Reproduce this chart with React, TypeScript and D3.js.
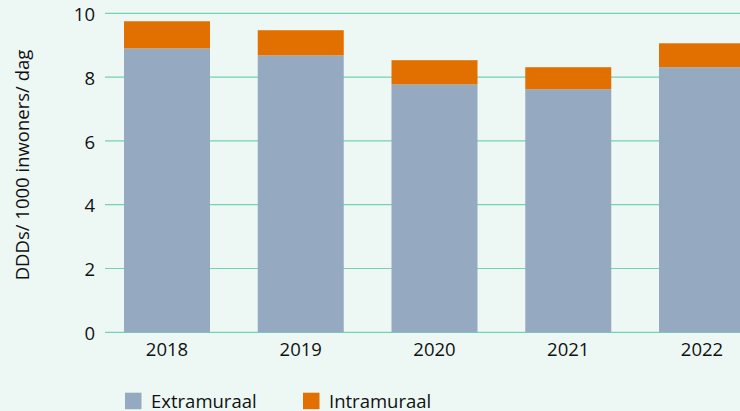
import React from "react";
import * as d3 from "d3";

const years = ["2018", "2019", "2020", "2021", "2022"];
const extramuraal = [8.9, 8.68, 7.77, 7.62, 8.31];
const intramuraal = [0.85, 0.79, 0.76, 0.69, 0.75];
const yTicks = [0, 2, 4, 6, 8, 10];
const seriesNames = ["Extramuraal", "Intramuraal"];
const seriesColors = ["#95a9c1", "#e17000"];

const W = 740;
const H = 411;
const FONT = "'Open Sans', sans-serif";
const FS = 18.5;

export default function App() {
  const x = d3
    .scaleBand<string>()
    .domain(years)
    .range([105, 764])
    .paddingInner(0.357)
    .paddingOuter(0.142);
  const y = d3.scaleLinear().domain([0, 10]).range([332.3, 13.3]);

  const rows = years.map((yr, i) => ({ year: yr, Extramuraal: extramuraal[i], Intramuraal: intramuraal[i] }));
  const stacked = d3.stack<any>().keys(seriesNames)(rows);

  return (
    <svg
      width={W}
      height={H}
      style={{ position: "fixed", left: 0, top: 0, display: "block" }}
      fontFamily={FONT}
    >
      <rect x={0} y={0} width={W} height={H} fill="#edf8f5" />
      {yTicks.map((t) => (
        <g key={t}>
          <line x1={105} x2={W} y1={y(t)} y2={y(t)} stroke="#74d1b3" strokeWidth={1.2} />
          <text x={95} y={y(t)} dy="0.42em" textAnchor="end" fontSize={FS} fill="#111">
            {t}
          </text>
        </g>
      ))}
      {stacked.map((s, si) => (
        <g key={s.key} fill={seriesColors[si]}>
          {s.map((d, i) => (
            <rect
              key={i}
              x={x(years[i])}
              width={x.bandwidth()}
              y={y(d[1])}
              height={y(d[0]) - y(d[1])}
            />
          ))}
        </g>
      ))}
      {years.map((yr) => (
        <text
          key={yr}
          x={(x(yr) as number) + x.bandwidth() / 2}
          y={356.3}
          textAnchor="middle"
          fontSize={FS}
          fill="#111"
        >
          {yr}
        </text>
      ))}
      <text
        transform={`translate(29,165) rotate(-90)`}
        textAnchor="middle"
        fontSize={FS}
        fill="#111"
      >
        DDDs/ 1000 inwoners/ dag
      </text>
      {seriesNames.map((n, i) => {
        const lx = [125, 303][i];
        return (
          <g key={n}>
            <rect x={lx} y={392.7} width={16.5} height={16.5} fill={seriesColors[i]} />
            <text x={lx + 26} y={407.8} fontSize={FS} fill="#111">
              {n}
            </text>
          </g>
        );
      })}
    </svg>
  );
}
